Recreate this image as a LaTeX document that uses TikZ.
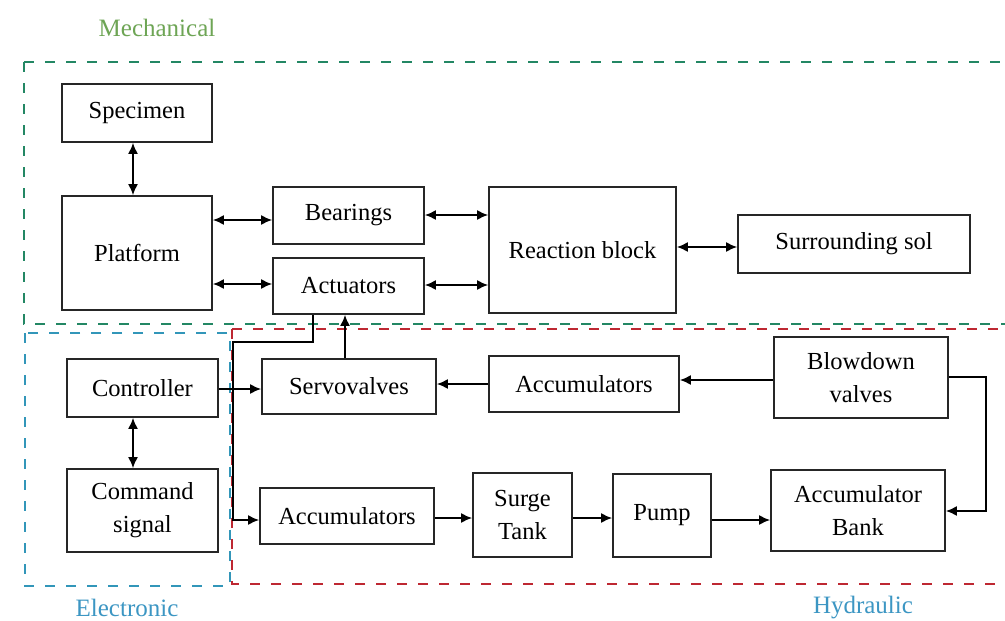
\documentclass[tikz,border=0pt]{standalone}
\usepackage{fontspec}
\setmainfont{Liberation Serif}
\usetikzlibrary{arrows.meta}
\definecolor{mechline}{RGB}{35,135,100}
\definecolor{mechtext}{RGB}{110,165,85}
\definecolor{elecline}{RGB}{50,150,185}
\definecolor{electext}{RGB}{60,150,195}
\definecolor{hydline}{RGB}{190,40,50}
\begin{document}
\begin{tikzpicture}[x=1pt,y=-1pt,
  blk/.style={draw=black!85,line width=1.8pt,align=center,inner sep=0pt,
    font=\fontsize{24.5}{33}\selectfont},
  zone/.style={line width=2.6pt,dash pattern=on 10pt off 11pt},
  zonelabel/.style={font=\fontsize{25}{28}\selectfont},
  link/.style={line width=1.6pt,-{Latex[length=11pt,width=10pt]}},
  biarrow/.style={line width=1.6pt,{Latex[length=11pt,width=10pt]}-{Latex[length=11pt,width=10pt]}}]
\fill[white] (0,0) rectangle (1005,621);
\useasboundingbox (0,0) rectangle (1005,621);

% subsystem zones
\draw[zone,mechline] (24,62) -- (1012,62) (24,62) -- (24,324) -- (1012,324);
\draw[zone,hydline] (232,329) -- (1012,329) (232,329) -- (232,584) -- (1012,584);
\draw[zone,elecline] (25,333) rectangle (230,586);
\node[zonelabel,text=mechtext] (lmech) at (157,28) {Mechanical};
\node[zonelabel,text=electext] (lelec) at (127,608) {Electronic};
\node[zonelabel,text=electext] (lhyd) at (863,608) {Hydraulic};

% mechanical blocks
\node[blk,minimum width=150pt,minimum height=58pt] (spec) at (137,113) {Specimen};
\node[blk,minimum width=150pt,minimum height=114pt] (plat) at (137,253) {Platform};
\node[blk,minimum width=151pt,minimum height=57pt] (bear) at (348.5,215.5) {Bearings};
\node[blk,minimum width=151pt,minimum height=56pt] (act) at (348.5,286) {Actuators};
\node[blk,minimum width=187pt,minimum height=126pt] (react) at (582.5,250) {Reaction block};
\node[blk,minimum width=232pt,minimum height=58pt] (surr) at (854,244) {Surrounding sol};

% electronic blocks
\node[blk,minimum width=151pt,minimum height=58pt] (ctrl) at (142.5,388) {Controller};
\node[blk,minimum width=151pt,minimum height=83pt] (cmd) at (142.5,510.5) {Command\\signal};

% hydraulic blocks
\node[blk,minimum width=174pt,minimum height=55pt] (servo) at (349,386.5) {Servovalves};
\node[blk,minimum width=190pt,minimum height=56pt] (accT) at (584,384) {Accumulators};
\node[blk,minimum width=174pt,minimum height=81pt] (blow) at (861,377.5) {Blowdown\\valves};
\node[blk,minimum width=174pt,minimum height=56pt] (accB) at (347,516) {Accumulators};
\node[blk,minimum width=99pt,minimum height=84pt] (surge) at (522.5,515) {Surge\\Tank};
\node[blk,minimum width=98pt,minimum height=83pt] (pump) at (662,515.5) {Pump};
\node[blk,minimum width=174pt,minimum height=81pt] (bank) at (858,510.5) {Accumulator\\Bank};

% mechanical links
\draw[biarrow] (spec.south -| 133,0) -- (plat.north -| 133,0);
\draw[biarrow] (plat.east |- 0,220) -- (bear.west |- 0,220);
\draw[biarrow] (plat.east |- 0,284) -- (act.west |- 0,284);
\draw[biarrow] (bear.east |- 0,215) -- (react.west |- 0,215);
\draw[biarrow] (act.east |- 0,285) -- (react.west |- 0,285);
\draw[biarrow] (react.east |- 0,247) -- (surr.west |- 0,247);

% electronic links
\draw[biarrow] (ctrl.south -| 133,0) -- (cmd.north -| 133,0);
\draw[link] (ctrl.east |- 0,389) -- (servo.west |- 0,389);
\draw[link] (act.south -| 313,0) -- (313,342) -- (233,342) -- (233,520) -- (accB.west |- 0,520);

% hydraulic links
\draw[link] (servo.north -| 345,0) -- (act.south -| 345,0);
\draw[link] (accT.west) -- (servo.east |- accT.west);
\draw[link] (blow.west |- 0,380) -- (accT.east |- 0,380);
\draw[link] (blow.east |- 0,377) -- (986,377) -- (986,511) -- (bank.east |- 0,511);
\draw[link] (accB.east |- 0,518) -- (surge.west |- 0,518);
\draw[link] (surge.east |- 0,518) -- (pump.west |- 0,518);
\draw[link] (pump.east |- 0,520) -- (bank.west |- 0,520);
\end{tikzpicture}
\end{document}
